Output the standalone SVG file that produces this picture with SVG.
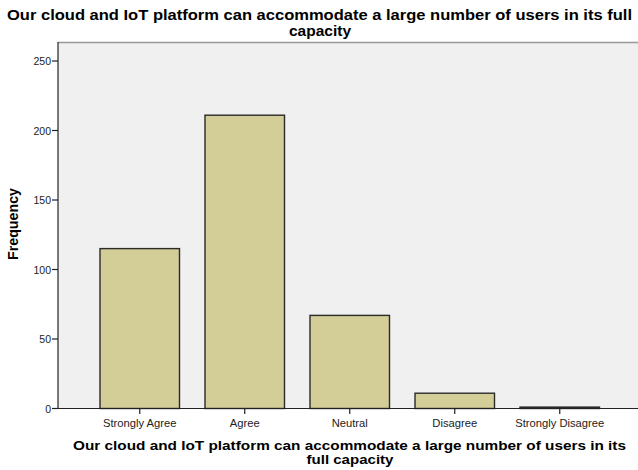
<svg xmlns="http://www.w3.org/2000/svg" width="638" height="470" viewBox="0 0 638 470">
<style>
.t{font-family:"Liberation Sans",Arial,sans-serif;font-weight:bold;fill:#000;text-anchor:middle}
.tk{font-family:"Liberation Sans",Arial,sans-serif;fill:#222}
.bar{fill:#D3CE97;stroke:#2a2a2a;stroke-width:1.4}
.ax{stroke:#222;stroke-width:1.2;fill:none}
</style>
<rect width="638" height="470" fill="#fff"/>
<g id="title">
<text class="t" x="319.5" y="20" font-size="15" textLength="625" lengthAdjust="spacingAndGlyphs">Our cloud and IoT platform can accommodate a large number of users in its full</text>
<text class="t" x="320" y="35.5" font-size="15" textLength="62" lengthAdjust="spacingAndGlyphs">capacity</text>
</g>
<g id="plot">
<rect x="58" y="42" width="580" height="367" fill="#F0F0F0"/>
<line x1="58" y1="42.5" x2="638" y2="42.5" stroke="#999" stroke-width="1.5"/>
</g>
<g id="bars">
<rect id="bar-strongly-agree" class="bar" x="100" y="248.6" width="79.5" height="159.9"/>
<rect id="bar-agree" class="bar" x="205" y="115.2" width="79.5" height="293.3"/>
<rect id="bar-neutral" class="bar" x="310" y="315.4" width="79.5" height="93.1"/>
<rect id="bar-disagree" class="bar" x="415" y="393.2" width="79.5" height="15.3"/>
<rect id="bar-strongly-disagree" class="bar" x="520" y="407.1" width="79.5" height="1.4"/>
</g>
<g id="axes">
<line class="ax" x1="58" y1="42" x2="58" y2="409"/>
<line class="ax" x1="58" y1="408.5" x2="638" y2="408.5"/>
<g class="ax">
<line x1="52" y1="408.5" x2="58" y2="408.5"/>
<line x1="52" y1="339" x2="58" y2="339"/>
<line x1="52" y1="269.5" x2="58" y2="269.5"/>
<line x1="52" y1="200" x2="58" y2="200"/>
<line x1="52" y1="130.5" x2="58" y2="130.5"/>
<line x1="52" y1="61" x2="58" y2="61"/>
<line x1="139.75" y1="408.5" x2="139.75" y2="414"/>
<line x1="244.75" y1="408.5" x2="244.75" y2="414"/>
<line x1="349.75" y1="408.5" x2="349.75" y2="414"/>
<line x1="454.75" y1="408.5" x2="454.75" y2="414"/>
<line x1="559.75" y1="408.5" x2="559.75" y2="414"/>
</g>
<g class="tk" text-anchor="end" font-size="10.5">
<text x="51" y="412.5">0</text>
<text x="51" y="343">50</text>
<text x="51" y="273.5">100</text>
<text x="51" y="204">150</text>
<text x="51" y="134.5">200</text>
<text x="51" y="65">250</text>
</g>
<g class="tk" text-anchor="middle" font-size="11.2">
<text x="139.75" y="427">Strongly Agree</text>
<text x="244.75" y="427">Agree</text>
<text x="349.75" y="427">Neutral</text>
<text x="454.75" y="427">Disagree</text>
<text x="559.75" y="427">Strongly Disagree</text>
</g>
</g>
<g id="axis-titles">
<text class="t" x="349.5" y="450" font-size="13.5" textLength="553" lengthAdjust="spacingAndGlyphs">Our cloud and IoT platform can accommodate a large number of users in its</text>
<text class="t" x="350" y="463.5" font-size="13.5" textLength="87" lengthAdjust="spacingAndGlyphs">full capacity</text>
<text class="t" font-size="14" transform="translate(18,224) rotate(-90)" textLength="72" lengthAdjust="spacingAndGlyphs">Frequency</text>
</g>
</svg>
